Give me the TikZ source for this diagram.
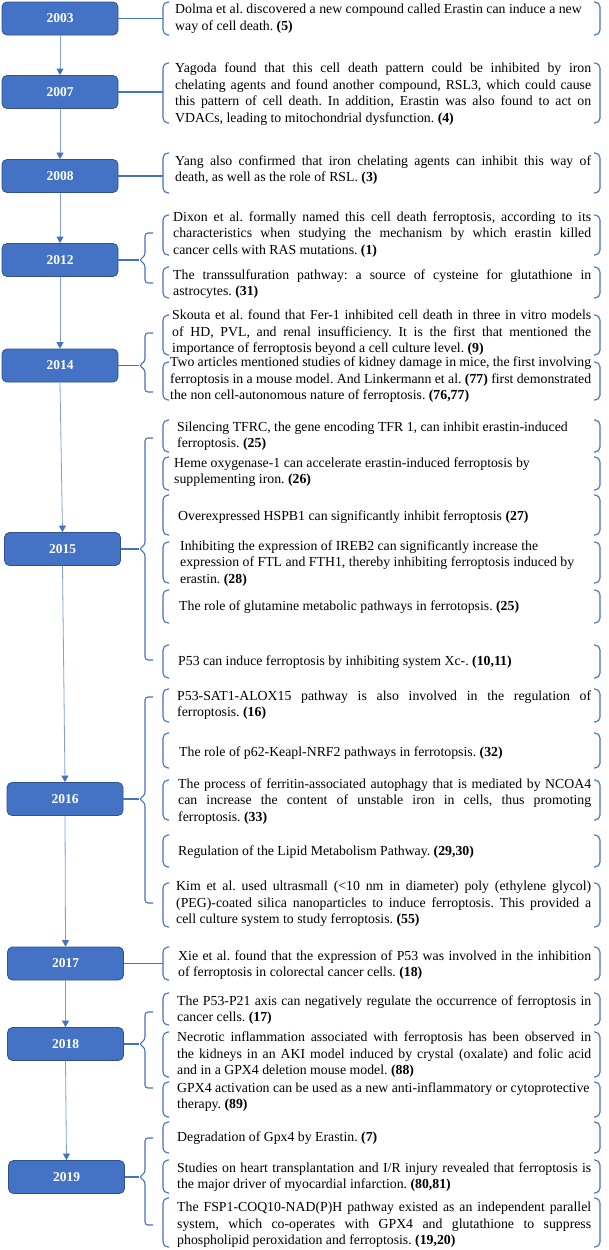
\documentclass[tikz,border=0pt]{standalone}
\usepackage{fontspec}
\setmainfont{Liberation Serif}
\usetikzlibrary{arrows.meta}
\definecolor{boxblue}{HTML}{4472C4}
\definecolor{boxedge}{HTML}{2F528F}
\definecolor{arrline}{HTML}{7F9FDA}
\frenchspacing
\newlength\tw
\newcommand\jl[1]{\makebox[\tw][s]{#1}}
\newcommand\itm[6]{%
  \node[bbox, minimum height={(#3-#2)*1pt}] (#1) at (381.5,{(#2+#3)/2}) {};
  \draw[brkline] ([xshift=6pt]#1.north west) -- (#1.north west) -- (#1.south west) -- ([xshift=6pt]#1.south west);
  \draw[brkline] ([xshift=-6pt]#1.north east) -- (#1.north east) -- (#1.south east) -- ([xshift=-6pt]#1.south east);
  \global\tw=\dimexpr 591pt-#4pt\relax
  \node[txt] (#1t) at (#4,#5) {#6};
}
\newcommand\brc[4]{%
  \draw[conn] (#1.east) -- (139,#4);
  \draw[conn, rounded corners=3pt] (153,#2) -- (145,#2) -- (145,{#4-4}) -- (139,#4) -- (145,{#4+4}) -- (145,#3) -- (153,#3);
}
\begin{document}
\begin{tikzpicture}[x=1pt,y=-1pt,
  year/.style={draw=boxedge, fill=boxblue, rounded corners=5pt, minimum width=116pt, minimum height=33pt, inner sep=0pt, text=white, font=\bfseries\fontsize{13.5}{15}\selectfont, line width=0.8pt},
  arr/.style={draw=arrline, line width=0.8pt, -{Triangle[length=6.5pt,width=7pt,color=boxblue]}},
  conn/.style={draw=boxblue, line width=1.1pt},
  brkline/.style={draw=boxblue, line width=1.1pt, rounded corners=5pt},
  bbox/.style={inner sep=0pt, outer sep=0pt, minimum width=437pt},
  txt/.style={anchor=west, inner sep=0pt, align=left, font=\fontsize{13.8}{16.5}\selectfont}]
\useasboundingbox[fill=white] (0,0) rectangle (608,1250);

% year boxes
\node[year] (y2003) at (60,18.5) {2003};
\node[year] (y2007) at (60,92) {2007};
\node[year] (y2008) at (60,176) {2008};
\node[year] (y2012) at (60,260) {2012};
\node[year] (y2014) at (60,365.5) {2014};
\node[year] (y2015) at (62.5,549) {2015};
\node[year] (y2016) at (65,799) {2016};
\node[year] (y2017) at (65.5,963.5) {2017};
\node[year] (y2018) at (65.5,1044) {2018};
\node[year] (y2019) at (66.5,1177) {2019};

\draw[arr] (y2003.south) -- (y2007.north);
\draw[arr] (y2007.south) -- (y2008.north);
\draw[arr] (y2008.south) -- (y2012.north);
\draw[arr] (y2012.south) -- (y2014.north);
\draw[arr] (y2014.south) -- (y2015.north);
\draw[arr] (y2015.south) -- (y2016.north);
\draw[arr] (y2016.south) -- (y2017.north);
\draw[arr] (y2017.south) -- (y2018.north);
\draw[arr] (y2018.south) -- (y2019.north);

% items
\itm{i1}{2}{35}{175}{18.5}{Dolma et al. discovered a new compound called Erastin can induce a new\\ way of cell death. \textbf{(5)}}
\itm{i2}{63}{123}{175}{94}{\jl{Yagoda found that this cell death pattern could be inhibited by iron}\\ \jl{chelating agents and found another compound, RSL3, which could cause}\\ \jl{this pattern of cell death. In addition, Erastin was also found to act on}\\ VDACs, leading to mitochondrial dysfunction. \textbf{(4)}}
\itm{i3}{153}{193}{175}{170}{\jl{Yang also confirmed that iron chelating agents can inhibit this way of}\\ death, as well as the role of RSL. \textbf{(3)}}
\itm{i4}{215}{255}{173}{234.5}{\jl{Dixon et al. formally named this cell death ferroptosis, according to its}\\ \jl{characteristics when studying the mechanism by which erastin killed}\\ cancer cells with RAS mutations. \textbf{(1)}}
\itm{i5}{267}{298}{173}{284}{\jl{The transsulfuration pathway: a source of cysteine for glutathione in}\\ astrocytes. \textbf{(31)}}
\itm{i6}{315}{355}{172}{333}{\jl{Skouta et al. found that Fer-1 inhibited cell death in three in vitro models}\\ \jl{of HD, PVL, and renal insufficiency. It is the first that mentioned the}\\ importance of ferroptosis beyond a cell culture level. \textbf{(9)}}
\itm{i7}{362}{400}{170}{380}{\jl{Two articles mentioned studies of kidney damage in mice, the first involving}\\ \jl{ferroptosis in a mouse model. And Linkermann et al. \textbf{(77)} first demonstrated}\\ the non cell-autonomous nature of ferroptosis. \textbf{(76,77)}}
\itm{i8}{420}{452}{177}{436}{Silencing TFRC, the gene encoding TFR 1, can inhibit erastin-induced\\ ferroptosis. \textbf{(25)}}
\itm{i9}{457}{490}{174}{472}{Heme oxygenase-1 can accelerate erastin-induced ferroptosis by\\ supplementing iron. \textbf{(26)}}
\itm{i10}{495}{535}{178}{517}{Overexpressed HSPB1 can significantly inhibit ferroptosis \textbf{(27)}}
\itm{i11}{542}{583}{180}{563.5}{Inhibiting the expression of IREB2 can significantly increase the\\ expression of FTL and FTH1, thereby inhibiting ferroptosis induced by\\ erastin. \textbf{(28)}}
\itm{i12}{590}{623}{179}{607}{The role of glutamine metabolic pathways in ferrotopsis. \textbf{(25)}}
\itm{i13}{645}{678}{178}{662}{P53 can induce ferroptosis by inhibiting system Xc-. \textbf{(10,11)}}
\itm{i14}{689}{722}{177}{705}{\jl{P53-SAT1-ALOX15 pathway is also involved in the regulation of}\\ ferroptosis. \textbf{(16)}}
\itm{i15}{733}{768}{179}{753}{The role of p62-Keapl-NRF2 pathways in ferrotopsis. \textbf{(32)}}
\itm{i16}{780}{820}{178}{801.5}{\jl{The process of ferritin-associated autophagy that is mediated by NCOA4}\\ \jl{can increase the content of unstable iron in cells, thus promoting}\\ ferroptosis. \textbf{(33)}}
\itm{i17}{835}{867}{178}{852}{Regulation of the Lipid Metabolism Pathway. \textbf{(29,30)}}
\itm{i18}{883}{927}{176}{904}{\jl{Kim et al. used ultrasmall (<10 nm in diameter) poly (ethylene glycol)}\\ \jl{(PEG)-coated silica nanoparticles to induce ferroptosis. This provided a}\\ cell culture system to study ferroptosis. \textbf{(55)}}
\itm{i19}{947}{980}{178}{965}{\jl{Xie et al. found that the expression of P53 was involved in the inhibition}\\ of ferroptosis in colorectal cancer cells. \textbf{(18)}}
\itm{i20}{993}{1025}{177}{1010}{\jl{The P53-P21 axis can negatively regulate the occurrence of ferroptosis in}\\ cancer cells. \textbf{(17)}}
\itm{i21}{1032}{1077}{177}{1055}{\jl{Necrotic inflammation associated with ferroptosis has been observed in}\\ \jl{the kidneys in an AKI model induced by crystal (oxalate) and folic acid}\\ and in a GPX4 deletion mouse model. \textbf{(88)}}
\itm{i22}{1082}{1117}{177}{1097}{GPX4 activation can be used as a new anti-inflammatory or cytoprotective\\ therapy. \textbf{(89)}}
\itm{i23}{1122}{1153}{177}{1138}{Degradation of Gpx4 by Erastin. \textbf{(7)}}
\itm{i24}{1160}{1193}{177}{1177}{\jl{Studies on heart transplantation and I/R injury revealed that ferroptosis is}\\ the major driver of myocardial infarction. \textbf{(80,81)}}
\itm{i25}{1198}{1247}{177}{1225}{\jl{The FSP1-COQ10-NAD(P)H pathway existed as an independent parallel}\\ \jl{system, which co-operates with GPX4 and glutathione to suppress}\\ phospholipid peroxidation and ferroptosis. \textbf{(19,20)}}

% single connectors
\draw[conn] (y2003.east) -- (y2003.east -| i1.west);
\draw[conn] (y2007.east) -- (y2007.east -| i2.west);
\draw[conn] (y2008.east) -- (y2008.east -| i3.west);
\draw[conn] (y2017.east) -- (y2017.east -| i19.west);

% braces
\brc{y2012}{233}{283}{260}
\brc{y2014}{333}{392}{365.5}
\brc{y2015}{438}{660}{549}
\brc{y2016}{697}{903}{799}
\brc{y2018}{1012}{1088}{1044}
\brc{y2019}{1138}{1225}{1177}
\end{tikzpicture}
\end{document}
